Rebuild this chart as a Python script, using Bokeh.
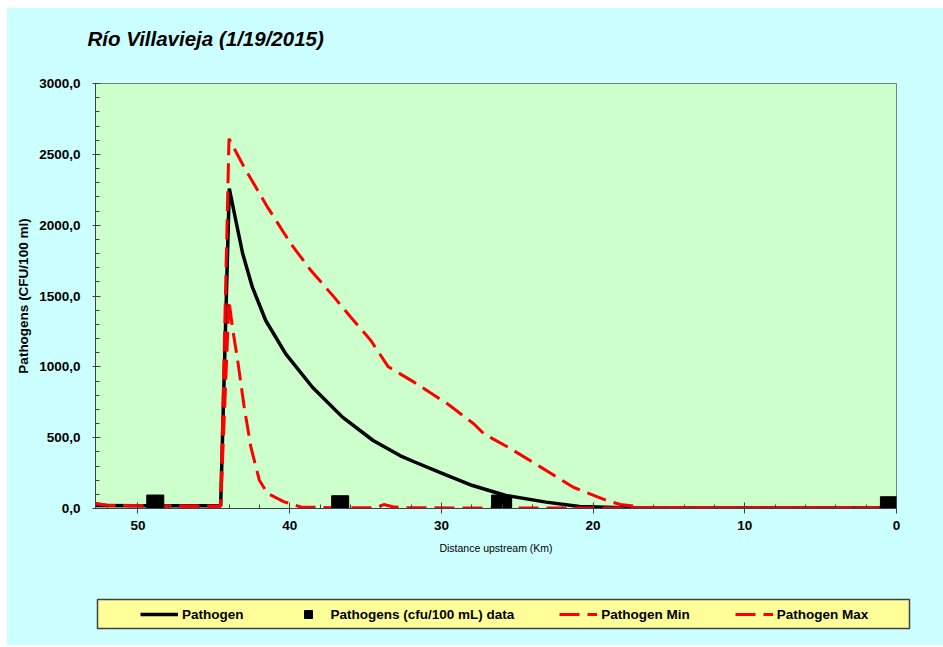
from bokeh.plotting import figure
from bokeh.models import (Range1d, FixedTicker, CustomJSTickFormatter, Legend, LegendItem,
                          ColumnDataSource, Label)
from bokeh.embed import file_html
from bokeh.resources import INLINE

# ---------------- data ----------------
title_text = "Río Villavieja (1/19/2015)"
series_names = ["Pathogen", "Pathogens (cfu/100 mL) data", "Pathogen Min", "Pathogen Max"]

path_km = [52.8, 50.0, 48.0, 46.0, 44.55, 43.98, 43.55, 43.1, 42.46, 41.58, 40.26, 38.5,
           36.52, 34.5, 32.7, 31.8, 30.15, 27.95, 25.75, 23.1, 20.9, 18.0, 15.0, 10.0, 5.0, 0.0]
path_val = [22, 20, 20, 20, 20, 2259, 2033, 1800, 1562, 1327, 1092, 856,
            645, 480, 372, 330, 256, 162, 92, 45, 14, 6, 4, 3, 3, 3]

data_km = [48.86, 36.67, 26.13, 25.93, 0.5]
data_val = [35, 30, 35, 20, 23]

min_km = [52.8, 52.0, 48.0, 44.55, 44.0, 43.78, 43.43, 43.0, 42.56, 42.0, 41.46, 40.36,
          39.26, 37.0, 34.3, 33.8, 33.2, 32.5, 28.0, 20.0, 10.0, 0.0]
min_val = [35, 22, 18, 15, 1468, 1282, 1047, 717, 435, 200, 106, 47,
           11, 5, 5, 28, 12, 5, 4, 3, 3, 3]

max_km = [52.8, 52.0, 48.0, 44.55, 44.0, 43.0, 41.46, 39.92, 38.6, 37.07, 35.97, 34.65,
          33.5, 31.8, 29.6, 27.87, 27.2, 25.6, 23.45, 21.3, 19.1, 18.2, 17.5, 16.8,
          10.0, 3.0, 2.7, 2.4, 0.0]
max_val = [35, 22, 18, 18, 2610, 2409, 2127, 1868, 1680, 1492, 1350, 1186,
           1000, 892, 739, 598, 527, 433, 292, 150, 56, 28, 20, 6,
           4, 4, -6, 4, 4]

y_ticks = [0, 500, 1000, 1500, 2000, 2500, 3000]
x_ticks = [0, 10, 20, 30, 40, 50]

# ---------------- styles ----------------
CYAN = "#CCFFFF"
GREEN = "#CCFFCC"
YELLOW = "#FFFF99"
FONT = "Liberation Sans"
W = 935   # page content starts at (7, 8)

# ---------------- title strip ----------------
tf = figure(width=W, height=65, output_backend="svg", toolbar_location=None,
            x_axis_type=None, y_axis_type=None,
            x_range=Range1d(0, 1), y_range=Range1d(0, 1),
            min_border_left=0, min_border_right=0, min_border_top=0, min_border_bottom=0)
tf.background_fill_color = CYAN
tf.border_fill_color = CYAN
tf.outline_line_color = None
tf.title.visible = False
tf.add_layout(Label(x=80, y=35, x_units="screen", y_units="screen", text=title_text,
                    text_font=FONT, text_font_style="bold italic", text_font_size="20.5px",
                    text_color="black", text_align="left", text_baseline="middle"))

# ---------------- main chart ----------------
p = figure(width=W, height=507, output_backend="svg", toolbar_location=None,
           x_range=Range1d(52.8, 0), y_range=Range1d(0, 3000),
           min_border_left=88, min_border_right=46, min_border_top=10, min_border_bottom=72)
p.background_fill_color = GREEN
p.border_fill_color = CYAN
p.outline_line_color = "#808080"
p.outline_line_width = 1
p.xgrid.visible = False
p.ygrid.visible = False
p.title.visible = False

# y axis
ya = p.yaxis[0]
ya.ticker = FixedTicker(ticks=y_ticks, minor_ticks=list(range(0, 3001, 100)))
ya.formatter = CustomJSTickFormatter(code="return tick.toFixed(1).replace('.', ',');")
ya.axis_label = "Pathogens (CFU/100 ml)"
ya.axis_label_text_font = FONT
ya.axis_label_text_font_style = "bold"
ya.axis_label_text_font_size = "13.5px"
ya.axis_label_text_color = "black"
ya.axis_label_standoff = 5
ya.major_label_text_font = FONT
ya.major_label_text_font_style = "bold"
ya.major_label_text_font_size = "13.5px"
ya.major_label_text_color = "black"
ya.major_label_standoff = 12
ya.major_tick_out = 3
ya.major_tick_in = 5
ya.minor_tick_out = 0
ya.minor_tick_in = 4
ya.axis_line_color = "#404040"
ya.major_tick_line_color = "#404040"
ya.minor_tick_line_color = "#404040"

# x axis
xa = p.xaxis[0]
xa.ticker = FixedTicker(ticks=x_ticks, minor_ticks=list(range(0, 53, 2)))
xa.axis_label = "Distance upstream (Km)"
xa.axis_label_text_font = FONT
xa.axis_label_text_font_style = "normal"
xa.axis_label_text_font_size = "10.5px"
xa.axis_label_text_color = "black"
xa.axis_label_standoff = 9
xa.major_label_text_font = FONT
xa.major_label_text_font_style = "bold"
xa.major_label_text_font_size = "13.5px"
xa.major_label_text_color = "black"
xa.major_label_standoff = 7
xa.major_tick_out = 5
xa.major_tick_in = 6
xa.minor_tick_out = 0
xa.minor_tick_in = 4
xa.axis_line_color = "#404040"
xa.major_tick_line_color = "#404040"
xa.minor_tick_line_color = "#404040"

DASH = "20 8"
p.line(path_km, path_val, line_color="black", line_width=3.5)
p.line(min_km, min_val, line_color="#FF0000", line_width=3, line_dash=DASH)
p.line(max_km, max_val, line_color="#FF0000", line_width=3, line_dash=DASH)
p.scatter(data_km, data_val, marker="square", size=17, fill_color="black", line_color="black")

# ---------------- legend strip ----------------
leg = figure(width=W, height=65, output_backend="svg", toolbar_location=None,
             x_axis_type=None, y_axis_type=None,
             x_range=Range1d(0, 1), y_range=Range1d(0, 1),
             min_border_left=90, min_border_right=33, min_border_top=19, min_border_bottom=17)
leg.background_fill_color = YELLOW
leg.border_fill_color = CYAN
leg.outline_line_color = "#404040"
leg.outline_line_width = 1.5
leg.title.visible = False

# legend-only renderers: their points lie outside the strip's ranges, so only the
# legend swatches are visible
off = dict(x=[5, 6], y=[5, 6])
r1 = leg.line("x", "y", source=ColumnDataSource(off), line_color="black", line_width=3.5)
r2 = leg.scatter("x", "y", source=ColumnDataSource(off), marker="square",
                 fill_color="black", line_color="black")
r3 = leg.line("x", "y", source=ColumnDataSource(off), line_color="#FF0000", line_width=3,
              line_dash=DASH)
r4 = leg.line("x", "y", source=ColumnDataSource(off), line_color="#FF0000", line_width=3,
              line_dash=DASH)

legend = Legend(items=[LegendItem(label=series_names[0], renderers=[r1]),
                       LegendItem(label=series_names[1], renderers=[r2]),
                       LegendItem(label=series_names[2], renderers=[r3]),
                       LegendItem(label=series_names[3], renderers=[r4])],
                orientation="horizontal", location=(43, 4), padding=0, margin=0,
                spacing=45, glyph_width=38, glyph_height=20, label_height=20,
                label_standoff=4, background_fill_alpha=0, border_line_alpha=0,
                label_text_font=FONT, label_text_font_style="bold",
                label_text_font_size="13.5px", label_text_color="black")
leg.add_layout(legend, "center")

# three separate roots stacked on the page (so their frames are not aligned);
# the body gets the chart's cyan, offset by a small white page margin
html = file_html([tf, p, leg], INLINE)
style = ("<style>html{background:#FFFFFF;} "
         "body{background:#CCFFFF; margin:8px 0 0 7px !important; height:auto !important;}"
         "</style>")
html = html.replace("</head>", style + "</head>", 1)
open("out.html", "w").write(html)
